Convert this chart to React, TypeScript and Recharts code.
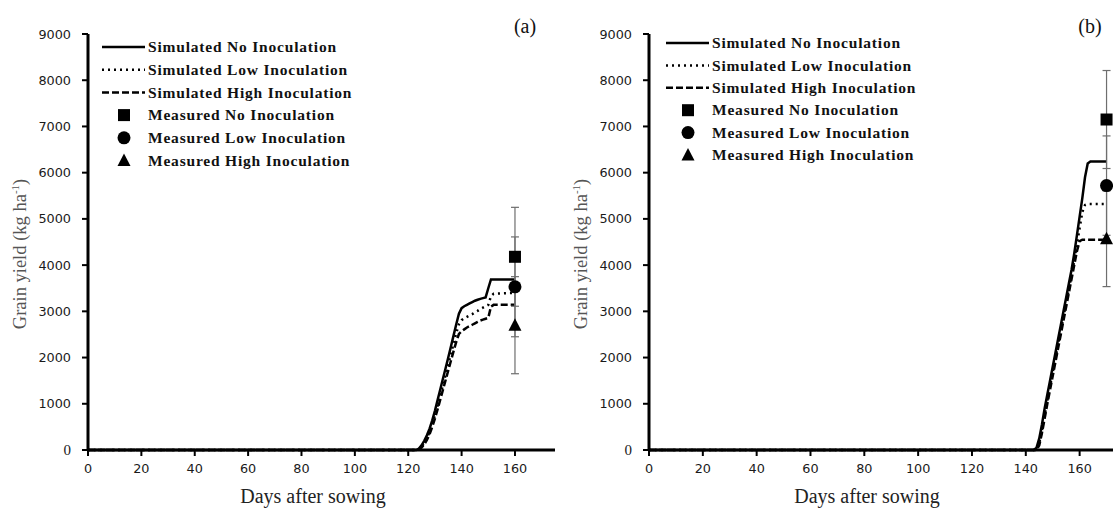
import React from 'react';
import { ComposedChart, Line, Scatter, ErrorBar, XAxis, YAxis, Legend } from 'recharts';

// ---------- data ----------
const xTicks = [0, 20, 40, 60, 80, 100, 120, 140, 160];
const yTicks = [0, 1000, 2000, 3000, 4000, 5000, 6000, 7000, 8000, 9000];

const seriesNames = [
  'Simulated No Inoculation',
  'Simulated Low Inoculation',
  'Simulated High Inoculation',
  'Measured No Inoculation',
  'Measured Low Inoculation',
  'Measured High Inoculation',
];

// Panel (a)
const daysA = [0, 122, 123, 124, 125, 126, 127, 128, 129, 130, 131, 132, 133, 134, 135, 136, 137, 138, 139, 140, 141, 142, 143, 144, 145, 146, 147, 148, 149, 150, 151, 152, 160];
const simNoA = [0, 0, 0, 30, 100, 200, 320, 460, 640, 850, 1080, 1310, 1540, 1770, 2000, 2240, 2480, 2720, 2950, 3070, 3110, 3140, 3170, 3200, 3230, 3250, 3270, 3285, 3300, 3500, 3690, 3690, 3690];
const simLowA = [0, 0, 0, 15, 70, 150, 260, 390, 560, 750, 960, 1180, 1400, 1620, 1850, 2080, 2310, 2530, 2720, 2810, 2850, 2880, 2910, 2940, 2980, 3010, 3050, 3080, 3110, 3140, 3330, 3380, 3400];
const simHighA = [0, 0, 0, 10, 50, 120, 220, 340, 500, 680, 880, 1090, 1300, 1510, 1720, 1930, 2140, 2340, 2510, 2570, 2610, 2650, 2680, 2710, 2740, 2770, 2800, 2820, 2840, 2860, 3100, 3140, 3140];
const measuredDayA = 160;
const measuredA = [4180, 3530, 2700];
const measuredErrA = [1070, 1080, 1050];

// Panel (b)
const daysB = [0, 143, 144, 145, 146, 147, 148, 149, 150, 151, 152, 153, 154, 155, 156, 157, 158, 159, 160, 161, 162, 163, 164, 170];
const simNoB = [0, 0, 50, 250, 550, 900, 1200, 1500, 1800, 2100, 2400, 2700, 3000, 3300, 3600, 3900, 4250, 4650, 5050, 5450, 5900, 6200, 6240, 6240];
const simLowB = [0, 0, 10, 150, 430, 750, 1070, 1380, 1680, 1980, 2280, 2580, 2880, 3180, 3480, 3780, 4100, 4450, 4800, 5150, 5300, 5320, 5320, 5320];
const simHighB = [0, 0, 0, 100, 370, 680, 1000, 1300, 1600, 1900, 2200, 2500, 2800, 3100, 3400, 3700, 4000, 4300, 4520, 4550, 4550, 4550, 4550, 4550];
const measuredDayB = 170;
const measuredB = [7150, 5720, 4570];
const measuredErrB = [1060, 1075, 1035];

// ---------- helpers ----------
const rows = (days: number[], vals: number[]) => days.map((d, i) => ({ day: d, v: vals[i] }));
const point = (day: number, v: number, err: number) => [{ day, v, err }];

const SERIF = '"Liberation Serif", "Times New Roman", serif';
const SANS = '"DejaVu Sans", sans-serif';

const dashes = [undefined, '2 4', '7 3'];

const SquareShape = (p: any) => <rect x={p.cx - 6} y={p.cy - 6} width={12} height={12} fill="#000" />;
const CircleShape = (p: any) => <circle cx={p.cx} cy={p.cy} r={6.5} fill="#000" />;
const TriangleShape = (p: any) => (
  <polygon points={`${p.cx},${p.cy - 7} ${p.cx - 6.5},${p.cy + 5.5} ${p.cx + 6.5},${p.cy + 5.5}`} fill="#000" />
);
const shapes = [SquareShape, CircleShape, TriangleShape];

const YTick = (props: any) => {
  const { x, y, payload } = props;
  const zero = payload.value === 0;
  return (
    <text x={x} y={y} dy="0.36em" textAnchor="end" fontFamily={zero ? SERIF : SANS} fontSize={zero ? 15 : 12.8} fill="#1a1a1a">
      {payload.value}
    </text>
  );
};

const XTick = (props: any) => {
  const { x, y, payload } = props;
  return (
    <text x={x} y={y} dy="0.71em" textAnchor="middle" fontFamily={SANS} fontSize={12.8} fill="#1a1a1a">
      {payload.value}
    </text>
  );
};

const makeLegend = (rowGap: number) => () => (
  <svg width={270} height={150} style={{ display: 'block' }}>
    {seriesNames.map((name, i) => {
      const cy = 11 + i * rowGap;
      let sample: React.ReactNode;
      if (i < 3) {
        sample = <line x1={2} x2={45} y1={cy} y2={cy} stroke="#000" strokeWidth={2.5} strokeDasharray={dashes[i]} />;
      } else {
        const S = shapes[i - 3];
        sample = <S cx={24} cy={cy} />;
      }
      return (
        <g key={name}>
          {sample}
          <text x={48} y={cy} dy="0.34em" fontFamily={SERIF} fontWeight="bold" fontSize={15.5} letterSpacing={0.8} fill="#111">
            {name}
          </text>
        </g>
      );
    })}
  </svg>
);

const YLabel = () => (
  <text x={20} y={254} transform="rotate(-90 20 254)" textAnchor="middle" dy="0.35em" fontFamily={SERIF} fontSize={18.5} fill="#555">
    Grain yield (kg ha
    <tspan fontSize={11} dy={-7}>-1</tspan>
    <tspan dy={7}>)</tspan>
  </text>
);

interface PanelProps {
  left: number;
  width: number;
  marginRight: number;
  sims: { day: number; v: number }[][];
  measured: { day: number; v: number; err: number }[][];
  tag: string;
  tagX: number;
  xLabelX: number;
  legendLeft: number;
  legendTop: number;
  legendGap: number;
}

const Panel = (p: PanelProps) => (
  <div style={{ position: 'absolute', left: p.left, top: 0 }}>
    <ComposedChart width={p.width} height={510} margin={{ top: 34, right: p.marginRight, left: 28, bottom: 30 }}>
      <XAxis
        type="number"
        dataKey="day"
        domain={[0, 175]}
        ticks={xTicks}
        height={30}
        tickSize={6}
        tickMargin={8}
        tick={<XTick />}
        axisLine={{ stroke: '#000', strokeWidth: 3 }}
        tickLine={{ stroke: '#000', strokeWidth: 2 }}
        label={{
          content: () => (
            <text x={p.xLabelX} y={503} textAnchor="middle" fontFamily={SERIF} fontSize={20} fill="#222">
              Days after sowing
            </text>
          ),
        }}
      />
      <YAxis
        type="number"
        dataKey="v"
        domain={[0, 9000]}
        ticks={yTicks}
        width={60}
        tickSize={6}
        tickMargin={11}
        tick={<YTick />}
        axisLine={{ stroke: '#000', strokeWidth: 3 }}
        tickLine={{ stroke: '#000', strokeWidth: 2 }}
        label={{ content: () => <YLabel /> }}
      />
      {p.sims.map((d, i) => (
        <Line
          key={`sim${i}`}
          data={d}
          dataKey="v"
          type="linear"
          stroke="#000"
          strokeWidth={2.5}
          strokeDasharray={dashes[i]}
          dot={false}
          activeDot={false}
          isAnimationActive={false}
          name={seriesNames[i]}
        />
      ))}
      {p.measured.map((d, i) => (
        <Scatter
          key={`meas${i}`}
          data={d}
          dataKey="v"
          shape={shapes[i]}
          isAnimationActive={false}
          name={seriesNames[i + 3]}
        >
          <ErrorBar dataKey="err" direction="y" width={4} stroke="#6e6e6e" strokeWidth={1.2} isAnimationActive={false} />
        </Scatter>
      ))}
      <Legend
        layout="vertical"
        align="center"
        verticalAlign="middle"
        content={makeLegend(p.legendGap)}
        wrapperStyle={{ position: 'absolute', left: p.legendLeft, top: p.legendTop, width: 270, height: 150 }}
      />
      <text x={p.tagX} y={33} textAnchor="middle" fontFamily={SERIF} fontSize={20} fill="#111">
        {p.tag}
      </text>
    </ComposedChart>
  </div>
);

export default function App() {
  const simsA = [rows(daysA, simNoA), rows(daysA, simLowA), rows(daysA, simHighA)];
  const measA = measuredA.map((v, i) => point(measuredDayA, v, measuredErrA[i]));
  const simsB = [rows(daysB, simNoB), rows(daysB, simLowB), rows(daysB, simHighB)];
  const measB = measuredB.map((v, i) => point(measuredDayB, v, measuredErrB[i]));
  return (
    <div style={{ position: 'fixed', left: 0, top: 0, width: 1113, height: 510, overflow: 'hidden', background: '#fff' }}>
      <Panel
        left={0}
        width={570}
        marginRight={15}
        sims={simsA}
        measured={measA}
        tag="(a)"
        tagX={525}
        xLabelX={313}
        legendLeft={100}
        legendTop={36}
        legendGap={22.7}
      />
      <Panel
        left={561}
        width={580}
        marginRight={21}
        sims={simsB}
        measured={measB}
        tag="(b)"
        tagX={529}
        xLabelX={306}
        legendLeft={103}
        legendTop={32}
        legendGap={22.4}
      />
    </div>
  );
}
